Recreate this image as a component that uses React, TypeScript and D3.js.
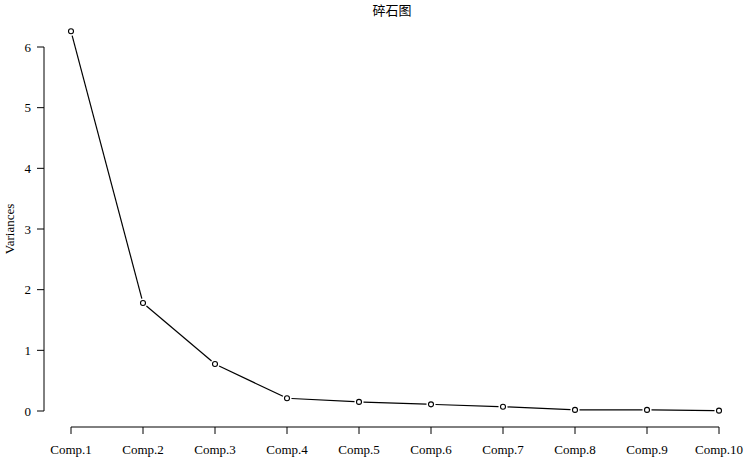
import React from "react";
import * as d3 from "d3";

const categories = ["Comp.1", "Comp.2", "Comp.3", "Comp.4", "Comp.5", "Comp.6", "Comp.7", "Comp.8", "Comp.9", "Comp.10"];
const variances = [6.26, 1.78, 0.775, 0.21, 0.15, 0.11, 0.07, 0.018, 0.018, 0.006];
const yTicks = [0, 1, 2, 3, 4, 5, 6];
const title = "碎石图";
const yLabel = "Variances";

export default function App() {
  const W = 746, H = 458;
  const x = d3.scalePoint<string>().domain(categories).range([71, 719]);
  const y = d3.scaleLinear().domain([0, 6]).range([411, 47]);
  const pts = categories.map((c, i) => ({ x: x(c) as number, y: y(variances[i]) }));
  const gap = 4.5;
  const segs = pts.slice(1).map((p, i) => {
    const a = pts[i];
    const dx = p.x - a.x, dy = p.y - a.y;
    const len = Math.hypot(dx, dy);
    const ux = dx / len, uy = dy / len;
    return { x1: a.x + ux * gap, y1: a.y + uy * gap, x2: p.x - ux * gap, y2: p.y - uy * gap };
  });
  const font = "'Liberation Serif', 'Times New Roman', serif";
  return (
    <svg width={W} height={H} style={{ position: "absolute", left: 0, top: 0, background: "#fff" }}>
      <text x={392} y={15} textAnchor="middle" fontSize={13} fontFamily="'Noto Sans CJK SC', sans-serif">{title}</text>
      {/* y axis */}
      <line x1={44} x2={44} y1={y(0)} y2={y(6)} stroke="#000" strokeWidth={1} />
      {yTicks.map(t => (
        <g key={t}>
          <line x1={37} x2={44} y1={y(t)} y2={y(t)} stroke="#000" />
          <text x={31} y={y(t) + 4.5} textAnchor="end" fontSize={13} fontFamily={font}>{t}</text>
        </g>
      ))}
      <text transform={`translate(14,${(y(0) + y(6)) / 2}) rotate(-90)`} textAnchor="middle" fontSize={13} fontFamily={font}>{yLabel}</text>
      {/* x axis */}
      <line x1={x(categories[0])} x2={x(categories[categories.length - 1])} y1={427} y2={427} stroke="#000" />
      {categories.map(c => (
        <g key={c}>
          <line x1={x(c)} x2={x(c)} y1={427} y2={434} stroke="#000" />
          <text x={x(c)} y={454} textAnchor="middle" fontSize={13} fontFamily={font}>{c}</text>
        </g>
      ))}
      {segs.map((s, i) => (
        <line key={i} x1={s.x1} y1={s.y1} x2={s.x2} y2={s.y2} stroke="#000" strokeWidth={1.2} />
      ))}
      {pts.map((p, i) => (
        <circle key={i} cx={p.x} cy={p.y} r={2.5} fill="#fff" stroke="#000" strokeWidth={1.1} />
      ))}
    </svg>
  );
}
